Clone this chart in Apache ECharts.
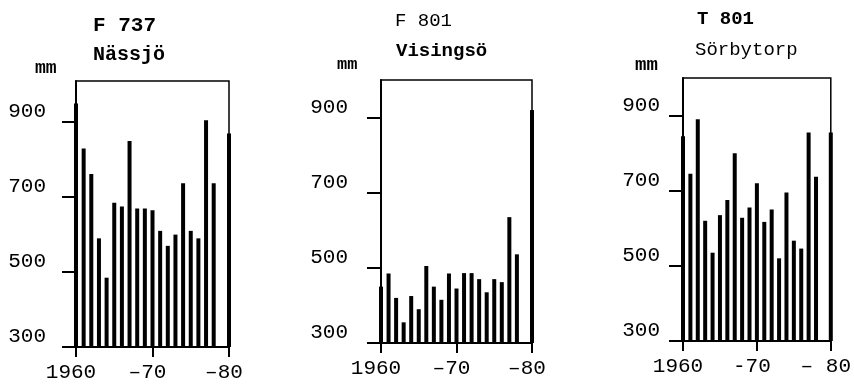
<!DOCTYPE html>
<html>
<head>
<meta charset="utf-8">
<script src="https://cdn.jsdelivr.net/npm/echarts@6/dist/echarts.min.js"></script>
<style>
  html, body { margin: 0; height: 100%; background: #fff; }
  #chart { width: 854px; height: 385px; }
</style>
</head>
<body>
<div id="chart"></div>
<script>
  // yearly precipitation (mm), 1960-1980
  const years = [1960, 1961, 1962, 1963, 1964, 1965, 1966, 1967, 1968, 1969, 1970,
    1971, 1972, 1973, 1974, 1975, 1976, 1977, 1978, 1979, 1980];
  const nassjo = [950, 830, 762, 590, 485, 685, 675, 850, 670, 670, 665,
    610, 570, 600, 737, 610, 590, 905, 737, null, 870];
  const visingso = [450, 485, 420, 355, 425, 390, 505, 450, 415, 485, 445,
    486, 486, 470, 435, 470, 462, 635, 536, null, 920];
  const sorbytorp = [845, 745, 890, 620, 535, 635, 675, 800, 628, 655, 720,
    617, 650, 520, 695, 567, 546, 855, 737, null, 855];

  const yTicks = [300, 500, 700, 900];
  const xTicks = [1960, 1970, 1980];
  const xLabels1 = ['1960', '–70', '–80'];
  const xLabels2 = ['1960', '–70', '–80'];
  const xLabels3 = ['1960', '-70', '– 80'];

  const font = "'Liberation Mono', 'DejaVu Sans Mono', monospace";

  const chart = echarts.init(document.getElementById('chart'), null, { renderer: 'canvas' });

  function pairs(vals) {
    const out = [];
    years.forEach(function (y, i) {
      if (vals[i] != null) out.push([y, vals[i]]);
    });
    return out;
  }

  function xAxis(idx, labels) {
    return {
      type: 'value', gridIndex: idx, min: 1960, max: 1980, interval: 10,
      axisLine: { lineStyle: { color: '#000', width: 2 } },
      axisTick: { customValues: xTicks, length: 10, lineStyle: { color: '#000', width: 2 } },
      axisLabel: {
        customValues: xTicks, margin: 15, color: '#000', fontFamily: font,
        fontSize: 21, padding: [0, 10, 0, 0],
        formatter: function (v) { return labels[xTicks.indexOf(v)]; }
      },
      splitLine: { show: false }
    };
  }

  function yAxis(idx, max, margin) {
    return {
      type: 'value', gridIndex: idx, min: 300, max: max,
      axisLine: { show: true, lineStyle: { color: '#000', width: 2 } },
      axisTick: { show: true, customValues: yTicks, length: 14, lineStyle: { color: '#000', width: 2 } },
      axisLabel: {
        customValues: yTicks, margin: margin, color: '#000', fontFamily: font,
        fontSize: 21, verticalAlign: 'bottom'
      },
      splitLine: { show: false }
    };
  }

  function bars(idx, vals) {
    return {
      type: 'bar', xAxisIndex: idx, yAxisIndex: idx, data: pairs(vals),
      barWidth: 4, clip: true, silent: true,
      itemStyle: { color: '#000' }
    };
  }

  function label(text, left, top, size, weight) {
    return {
      text: text, left: left, top: top, padding: 0,
      textStyle: { fontFamily: font, fontSize: size, fontWeight: weight, color: '#000' }
    };
  }

  const option = {
    animation: false,
    title: [
      label('F 737', 93, 15, 21, 'bold'),
      label('Nässjö', 93, 45, 20, 'bold'),
      label('mm', 35, 59, 18, 'bold'),
      label('F 801', 395, 11, 19, 'normal'),
      label('Visingsö', 396, 42, 19, 'bold'),
      label('mm', 337, 56, 17, 'bold'),
      label('T 801', 697, 10, 19, 'bold'),
      label('Sörbytorp', 695, 40, 19, 'normal'),
      label('mm', 635, 56, 19, 'bold')
    ],
    grid: [
      { left: 76, right: 625, top: 81, bottom: 38, show: true, borderColor: '#000', borderWidth: 1.5 },
      { left: 381, right: 322, top: 80, bottom: 42, show: true, borderColor: '#000', borderWidth: 1.5 },
      { left: 683, right: 18, top: 78, bottom: 44, show: true, borderColor: '#000', borderWidth: 1.5 }
    ],
    xAxis: [xAxis(0, xLabels1), xAxis(1, xLabels2), xAxis(2, xLabels3)],
    yAxis: [yAxis(0, 1010, 30), yAxis(1, 1000, 33), yAxis(2, 1000, 23)],
    series: [bars(0, nassjo), bars(1, visingso), bars(2, sorbytorp)]
  };

  chart.setOption(option);
  window.addEventListener('resize', chart.resize);
</script>
</body>
</html>
